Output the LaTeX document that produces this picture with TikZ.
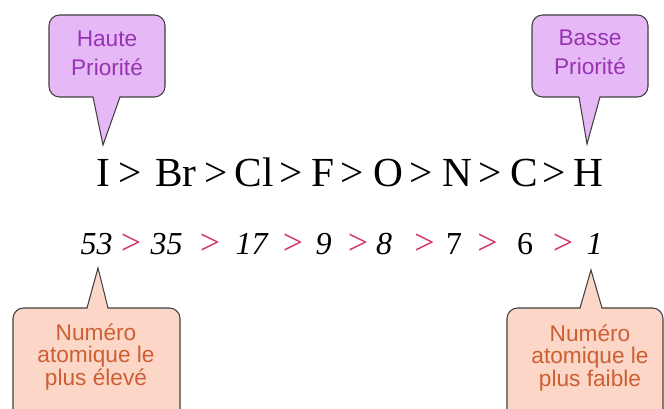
\documentclass[tikz,border=0pt]{standalone}
\usepackage{fontspec}
\setmainfont{Liberation Serif}
\newfontfamily\bullefont{Liberation Sans}
\definecolor{lilas}{RGB}{231,184,246}
\definecolor{mauve}{RGB}{150,52,178}
\definecolor{saumon}{RGB}{252,214,198}
\definecolor{brique}{RGB}{204,96,52}
\definecolor{rosevif}{RGB}{208,52,108}
\tikzset{elem/.style={anchor=base,inner sep=0pt,font=\fontsize{31}{36}\selectfont},
  num/.style={anchor=base,inner sep=0pt,font=\fontsize{24}{28}\selectfont\itshape},
  plusgd/.style={anchor=base,inner sep=0pt,text=rosevif,font=\fontsize{27}{30}\selectfont},
  bulle/.style={draw=black!75,line width=.8pt,rounded corners=8},
  pointe/.style={draw=black!75,line width=.8pt},
  haut/.style={inner sep=0pt,align=center,text=mauve,font=\bullefont\fontsize{17}{21.75}\selectfont},
  bas/.style={inner sep=0pt,align=center,text=brique,font=\bullefont\fontsize{17}{17}\selectfont}}

\begin{document}
\begin{tikzpicture}[x=.75pt,y=-.75pt]
\useasboundingbox (0,0) rectangle (664,409);
\clip (0,0) rectangle (664,409);
% bulles du haut
\coordinate (tHaute) at (103,145);
\coordinate (tBasse) at (587,144);
\draw[bulle,fill=lilas] (49,15) rectangle (165,97);
\fill[lilas] (93,95)--(tHaute)--(120,95)--cycle;
\draw[pointe] (93,97)--(tHaute)--(120,97);
\draw[bulle,fill=lilas] (532,15) rectangle (648,97);
\fill[lilas] (579,95)--(tBasse)--(600,95)--cycle;
\draw[pointe] (579,97)--(tBasse)--(600,97);
\node[haut] (haute) at (107,53) {Haute\\Priorité};
\node[haut] (basse) at (590,52) {Basse\\Priorité};
% bulles du bas
\coordinate (tEleve) at (98,268);
\coordinate (tFaible) at (591,270);
\draw[bulle,fill=saumon] (13,308) rectangle (180,450);
\fill[saumon] (87,310)--(tEleve)--(108,310)--cycle;
\draw[pointe] (87,308)--(tEleve)--(108,308);
\draw[bulle,fill=saumon] (507,308) rectangle (663,450);
\fill[saumon] (580,310)--(tFaible)--(602,310)--cycle;
\draw[pointe] (580,308)--(tFaible)--(602,308);
\node[bas] (eleve) at (96,357) {Numéro\\atomique le\\plus élevé};
\node[bas] (faible) at (590,358) {Numéro\\atomique le\\plus faible};
% ordre de priorite
\foreach \t/\x [count=\i] in {I/103.5,Br/176,Cl/254.5,F/323,O/388.5,N/457.5,C/524,H/588.5}
  \node[elem] (e\i) at (\x,187) {\t};
\foreach \x [count=\i] in {130,216.5,291.5,352.5,421.5,490,554.5}
  \node[elem] (g\i) at (\x,187) {>};
% numeros atomiques
\foreach \t/\x [count=\i] in {53/96.5,35/166.5,17/251.5,9/323.5,8/384,{\upshape 7}/454,{\upshape 6}/525,1/594.5}
  \node[num] (z\i) at (\x,255) {\t};
\foreach \x [count=\i] in {131,210,293,358,424.5,487.5,563}
  \node[plusgd] (p\i) at (\x,255) {>};
\end{tikzpicture}
\end{document}
